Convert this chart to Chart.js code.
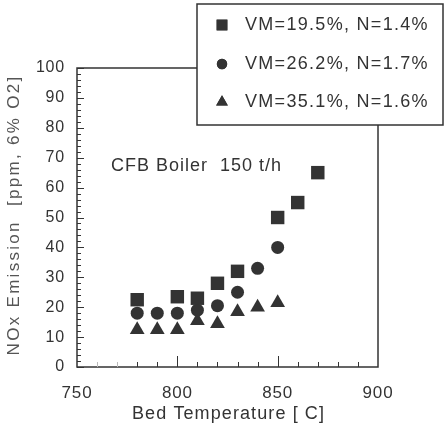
<!DOCTYPE html>
<html><head>
<meta charset="UTF-8">
<title>NOx emission vs bed temperature</title>
<script src="https://cdn.jsdelivr.net/npm/chart.js"></script>
<style>
  html, body { margin: 0; padding: 0; background: #fff; }
  #wrap { width: 445px; height: 429px; position: relative; }
</style>
</head>
<body>
<div id="wrap"><canvas id="c" width="445" height="429"></canvas></div>
<script>
// data
var seriesNames = ['VM=19.5%, N=1.4%', 'VM=26.2%, N=1.7%', 'VM=35.1%, N=1.6%'];
var tempA = [780, 800, 810, 820, 830, 850, 860, 870];
var noxA  = [22.5, 23.5, 23, 28, 32, 50, 55, 65];
var tempB = [780, 790, 800, 810, 820, 830, 840, 850];
var noxB  = [18, 18, 18, 19, 20.5, 25, 33, 40];
var tempC = [780, 790, 800, 810, 820, 830, 840, 850];
var noxC  = [12.5, 12.5, 12.5, 15.5, 14.5, 18.5, 20, 21.5];
var xTicks = [750, 800, 850, 900];
var yTicks = [0, 10, 20, 30, 40, 50, 60, 70, 80, 90, 100];
var note = 'CFB Boiler  150 t/h';
var xTitle = 'Bed Temperature [ C]';
var yTitle = 'NOx Emission  [ppm, 6% O2]';

var ink = '#333333';
var font = '"Liberation Sans", Arial, sans-serif';

function pts(xs, ys) {
  return xs.map(function(x, i) { return { x: x, y: ys[i] }; });
}

function spacedText(ctx, txt, x, y, size, spacing, align) {
  ctx.font = size + 'px ' + font;
  ctx.letterSpacing = spacing + 'px';
  ctx.textAlign = align || 'left';
  ctx.textBaseline = 'middle';
  ctx.fillText(txt, x, y);
  ctx.letterSpacing = '0px';
}

// frame, inner ticks, titles, note text and legend box
var decor = {
  id: 'decor',
  beforeDraw: function(chart) {
    chart.ctx.letterSpacing = '0.8px';
  },
  afterDatasetsDraw: function(chart) {
    var ctx = chart.ctx, a = chart.chartArea;
    var xs = chart.scales.x, ys = chart.scales.y;
    ctx.save();
    ctx.strokeStyle = ink;
    ctx.lineWidth = 1.5;
    ctx.strokeRect(a.left, a.top, a.right - a.left, a.bottom - a.top);

    // y minor / major ticks pointing inward
    ctx.lineWidth = 1;
    for (var v = 0; v <= 100; v += 2) {
      var py = Math.round(ys.getPixelForValue(v)) + 0.5;
      var len = (v % 10 === 0) ? 7 : 4;
      ctx.beginPath();
      ctx.moveTo(a.left, py);
      ctx.lineTo(a.left + len, py);
      ctx.stroke();
    }
    // x ticks pointing inward
    for (var t = 760; t < 900; t += 10) {
      var px = Math.round(xs.getPixelForValue(t)) + 0.5;
      var l = (t === 800 || t === 850) ? 11 : 5;
      ctx.strokeStyle = t < 780 ? '#bbbbbb' : ink;
      ctx.beginPath();
      ctx.moveTo(px, a.bottom);
      ctx.lineTo(px, a.bottom - l);
      ctx.stroke();
    }

    ctx.fillStyle = ink;
    spacedText(ctx, note, 111, 166, 18, 1.0);
    spacedText(ctx, xTitle, (a.left + a.right) / 2 + 1, 414, 18, 1.1, 'center');
    ctx.save();
    ctx.translate(14, 215);
    ctx.rotate(-Math.PI / 2);
    ctx.fillStyle = '#555555';
    spacedText(ctx, yTitle, 0, 0, 17, 2.3, 'center');
    ctx.restore();

    // legend box
    var bx = 197, by = 4, bw = 246, bh = 121;
    ctx.fillStyle = '#ffffff';
    ctx.fillRect(bx, by, bw, bh);
    ctx.strokeStyle = ink;
    ctx.lineWidth = 1.5;
    ctx.strokeRect(bx, by, bw, bh);
    var rows = [25, 64, 102];
    chart.data.datasets.forEach(function(ds, i) {
      ctx.fillStyle = ink;
      Chart.helpers.drawPoint(ctx, {
        pointStyle: ds.pointStyle, radius: ds.pointRadius * 0.8,
        borderWidth: 0
      }, 222, rows[i]);
      ctx.fill();
      spacedText(ctx, ds.label, 245, rows[i], 18, 1.3);
    });
    ctx.restore();
  }
};

new Chart(document.getElementById('c'), {
  type: 'scatter',
  data: {
    datasets: [
      { label: seriesNames[0], data: pts(tempA, noxA), pointStyle: 'rect',
        pointRadius: 9.5, backgroundColor: ink, borderColor: ink, borderWidth: 0 },
      { label: seriesNames[1], data: pts(tempB, noxB), pointStyle: 'circle',
        pointRadius: 6.5, backgroundColor: ink, borderColor: ink, borderWidth: 0 },
      { label: seriesNames[2], data: pts(tempC, noxC), pointStyle: 'triangle',
        pointRadius: 8.5, backgroundColor: ink, borderColor: ink, borderWidth: 0 }
    ]
  },
  options: {
    responsive: false,
    animation: false,
    layout: { padding: { left: 0, top: 68, right: 67, bottom: 0 } },
    plugins: { legend: { display: false }, tooltip: { enabled: false } },
    scales: {
      x: {
        type: 'linear', min: 750, max: 900,
        afterBuildTicks: function(s) { s.ticks = xTicks.map(function(v) { return { value: v }; }); },
        afterFit: function(s) { s.height = 62; },
        grid: { display: false, drawTicks: false },
        border: { display: false },
        ticks: { color: ink, font: { family: font, size: 17 }, padding: 16, maxRotation: 0 },
        title: { display: false }
      },
      y: {
        type: 'linear', min: 0, max: 100,
        afterBuildTicks: function(s) { s.ticks = yTicks.map(function(v) { return { value: v }; }); },
        afterFit: function(s) { s.width = 77; },
        grid: { display: false, drawTicks: false },
        border: { display: false },
        ticks: { color: ink, font: { family: font, size: 16 }, padding: 12 },
        title: { display: false }
      }
    }
  },
  plugins: [decor]
});
</script>
</body>
</html>
